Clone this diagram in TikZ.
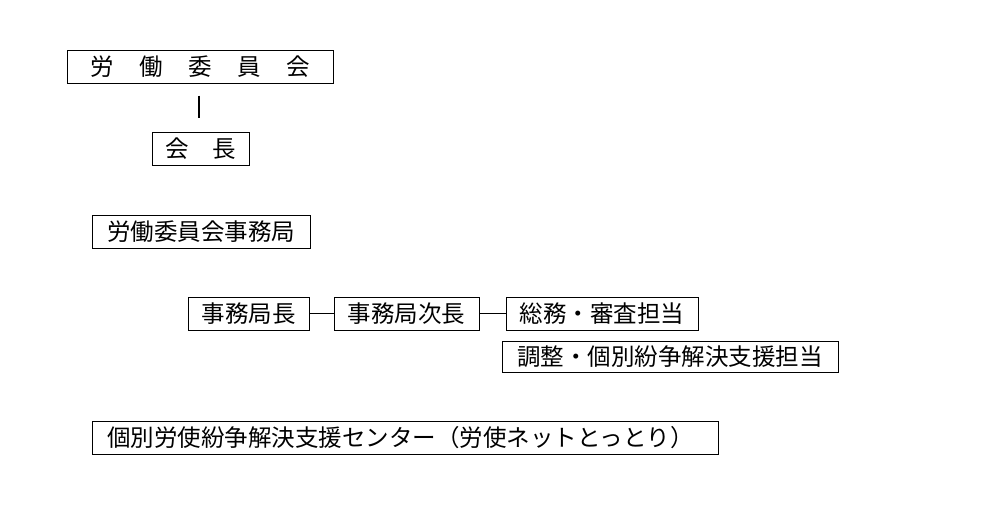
\documentclass[tikz,border=0pt]{standalone}
\usepackage{fontspec}
\setmainfont{Noto Sans CJK JP}
\begin{document}
\begin{tikzpicture}[x=1pt,y=-1pt,
  box/.style={draw,line width=1pt,inner sep=0pt,minimum height=33pt,font=\fontsize{23.5}{24}\selectfont},
  link/.style={line width=1.8pt}]
\useasboundingbox (0,0) rectangle (987,514);
\node[box,minimum width=266pt] (lwc) at (200,66.5) {労\hspace{25.5pt}働\hspace{25.5pt}委\hspace{25.5pt}員\hspace{25.5pt}会};
\node[box,minimum width=97pt] (chair) at (200.5,148.5) {会\hspace{23.5pt}長};
\draw[link,shorten <=12pt,shorten >=14pt] (lwc.south -| 199,0) -- (chair.north -| 199,0);
\node[box,minimum width=218pt] (office) at (201,231.5) {労働委員会事務局};
\node[box,minimum width=121pt] (dg) at (248.5,313.5) {事務局長};
\node[box,minimum width=145pt] (ddg) at (406.5,313.5) {事務局次長};
\node[box,minimum width=192pt] (gen) at (602,313.5) {総務・審査担当};
\node[box,minimum width=336pt,minimum height=31pt] (adj) at (670,356.5) {調整・個別紛争解決支援担当};
\node[box,minimum width=626pt] (ctr) at (405,437.5) {個別労使紛争解決支援センター（労使ネットとっとり）\hspace*{9pt}};
\draw[link] (dg.east) -- (ddg.west);
\draw[link] (ddg.east) -- (gen.west);
\end{tikzpicture}
\end{document}
